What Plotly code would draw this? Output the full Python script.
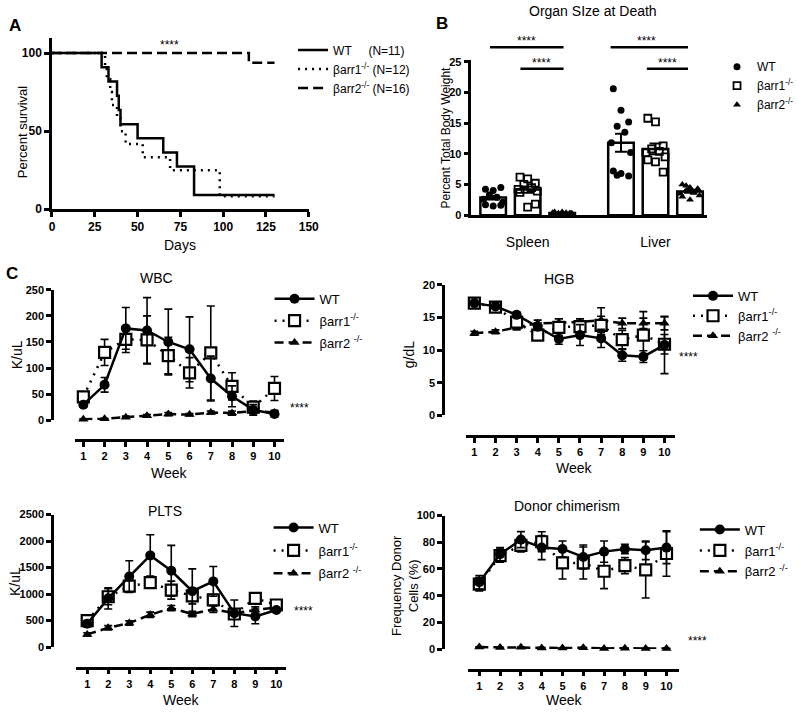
import numpy as np
import plotly.graph_objects as go

W, H = 799, 715
FONT = "Liberation Sans, Arial, sans-serif"


def px(x):
    return x / W


def py(y):
    return 1 - y / H


# ---------------- DATA ----------------
# Panel A: Kaplan-Meier survival (days, percent survival)
wt_days = [0, 29, 33, 38, 39, 40, 50, 65, 73, 83, 130]
wt_surv = [100, 90.9, 81.8, 72.7, 63.6, 54.5, 45.5, 36.4, 27.3, 9.1, 9.1]
b1_days = [0, 31, 32, 34, 35, 38, 40, 43, 53, 69, 98, 130]
b1_surv = [100, 91.7, 83.3, 75.0, 66.7, 58.3, 50.0, 41.7, 33.3, 25.0, 8.3, 8.3]
b2_days = [0, 115, 130]
b2_surv = [100, 93.75, 93.75]

# Panel B: organ size at death (% total body weight)
organs = ["Spleen", "Liver"]
wt_spleen = [4.2, 4.0, 4.5, 3.3, 2.9, 2.6, 2.1, 1.7, 1.5, 1.6, 3.0]
b1_spleen = [6.2, 5.9, 5.2, 5.0, 4.5, 4.2, 3.9, 3.7, 1.3, 1.8]
b2_spleen = [0.5, 0.4, 0.3, 0.3, 0.2, 0.4, 0.3, 0.2, 0.5, 0.3, 0.2, 0.4]
wt_liver = [20.6, 17.1, 15.2, 14.5, 13.5, 11.8, 10.2, 7.2, 6.8, 6.4, 6.5]
b1_liver = [15.8, 15.2, 11.3, 10.8, 10.4, 10.2, 9.5, 9.0, 8.7, 7.0]
b2_liver = [5.0, 4.5, 4.3, 4.0, 3.8, 3.5, 3.2, 3.0, 2.5, 4.2, 4.8, 3.6]

# Panel C: weekly blood counts (mean, error)
weeks = [1, 2, 3, 4, 5, 6, 7, 8, 9, 10]
wbc_wt = [30, 68, 176, 172, 150, 136, 80, 46, 20, 12]
wbc_wt_err = [5, 14, 40, 63, 63, 62, 43, 20, 10, 5]
wbc_b1 = [45, 130, 155, 154, 124, 91, 129, 65, 25, 61]
wbc_b1_err = [8, 25, 25, 46, 35, 29, 90, 26, 12, 23]
wbc_b2 = [2, 3, 6, 9, 12, 11, 15, 14, 18, 15]
wbc_b2_err = [1, 1, 2, 2, 3, 2, 3, 4, 5, 4]

hgb_wt = [17.2, 16.7, 15.4, 13.6, 11.7, 12.3, 11.8, 9.2, 9.0, 10.8]
hgb_wt_err = [0.3, 0.3, 0.4, 0.6, 0.8, 1.6, 1.4, 0.9, 0.9, 4.4]
hgb_b1 = [17.2, 16.6, 14.3, 12.3, 13.5, 13.6, 13.8, 11.6, 12.3, 10.9]
hgb_b1_err = [0.3, 0.4, 0.6, 0.7, 1.3, 1.2, 1.4, 1.4, 3.6, 1.5]
hgb_b2 = [12.6, 12.8, 13.5, 14.1, 14.2, 14.3, 14.6, 14.1, 14.1, 14.1]
hgb_b2_err = [0.3, 0.3, 0.4, 0.5, 0.6, 0.5, 1.9, 0.8, 0.8, 1.0]

plt_wt = [440, 920, 1330, 1730, 1440, 1056, 1240, 640, 580, 700]
plt_wt_err = [60, 200, 300, 390, 480, 420, 280, 250, 140, 40]
plt_b1 = [500, 950, 1150, 1215, 1075, 965, 890, 625, 920, 795]
plt_b1_err = [60, 150, 100, 70, 170, 150, 100, 100, 80, 50]
plt_b2 = [240, 365, 455, 610, 735, 625, 715, 640, 700, 750]
plt_b2_err = [30, 40, 40, 50, 50, 50, 60, 60, 60, 60]

chim_wt = [50, 71, 82, 76, 75, 69, 73, 75, 74, 76]
chim_wt_err = [5, 5, 6, 9, 6, 9, 8, 3.5, 7, 12]
chim_b1 = [48.6, 70, 77.7, 80.4, 64.5, 64.5, 58.3, 62.5, 59.3, 71.6]
chim_b1_err = [5, 5, 5, 7.5, 12, 12, 13, 6, 21, 17]
chim_b2 = [1.5, 1.2, 1.3, 0.9, 0.8, 1.0, 0.5, 0.6, 0.5, 0.4]
chim_b2_err = [0.2, 0.2, 0.2, 0.2, 0.2, 0.2, 0.2, 0.2, 0.2, 0.2]

# ---------------- FIGURE ----------------
fig = go.Figure()
SUP = "<sup>-/-</sup>"
NB = "\u00a0"

# ---- Panel A ----
a_series = [
    ("WT" + NB * 4 + " (N=11)", wt_days, wt_surv, "solid"),
    ("βarr1" + SUP + " (N=12)", b1_days, b1_surv, "2px,5px"),
    ("βarr2" + SUP + " (N=16)", b2_days, b2_surv, "10px,5px"),
]
for i, (nm, d, s, dash) in enumerate(a_series):
    fig.add_trace(go.Scatter(
        x=d, y=s, mode="lines", line=dict(shape="hv", color="black", width=2.5, dash=dash),
        name=nm, xaxis="x", yaxis="y", legend="legend", legendrank=i + 1,
        legendgroup="a%d" % i, cliponaxis=False))

# ---- Panel B ----
b_sets = [
    ("WT", [wt_spleen, wt_liver], dict(symbol="circle", size=7, color="black")),
    ("βarr1" + SUP, [b1_spleen, b1_liver],
     dict(symbol="square-open", size=7, color="black", line=dict(width=1.8))),
    ("βarr2" + SUP, [b2_spleen, b2_liver], dict(symbol="triangle-up", size=7, color="black")),
]
slot = 0.27
barw = 0.2
for j, (nm, groups, mk) in enumerate(b_sets):
    off = (j - 1) * slot
    means = [float(np.mean(g)) for g in groups]
    sems = [float(np.std(g, ddof=1) / np.sqrt(len(g))) for g in groups]
    fig.add_trace(go.Bar(
        x=[k + off for k in range(len(organs))], y=means, width=barw,
        marker=dict(color="white", line=dict(color="black", width=2.5)),
        error_y=dict(type="data", array=sems, color="black", thickness=2, width=6),
        showlegend=False, xaxis="x2", yaxis="y2"))
    xs, ys = [], []
    pattern = [-0.06, 0.0, 0.06, -0.03, 0.03, -0.075, 0.075]
    for k, g in enumerate(groups):
        for n, v in enumerate(g):
            xs.append(k + off + pattern[n % len(pattern)])
            ys.append(v)
    fig.add_trace(go.Scatter(
        x=xs, y=ys, mode="markers", marker=mk, name=nm, xaxis="x2", yaxis="y2",
        legend="legend2", legendrank=j + 1, legendgroup="b%d" % j, cliponaxis=False))

# ---- Panel C ----
c_panels = [
    (3, "legend3", [(wbc_wt, wbc_wt_err), (wbc_b1, wbc_b1_err), (wbc_b2, wbc_b2_err)]),
    (4, "legend4", [(hgb_wt, hgb_wt_err), (hgb_b1, hgb_b1_err), (hgb_b2, hgb_b2_err)]),
    (5, "legend5", [(plt_wt, plt_wt_err), (plt_b1, plt_b1_err), (plt_b2, plt_b2_err)]),
    (6, "legend6", [(chim_wt, chim_wt_err), (chim_b1, chim_b1_err), (chim_b2, chim_b2_err)]),
]
c_styles = [
    ("WT", "solid", dict(symbol="circle", size=10, color="black")),
    ("βarr1" + SUP, "2px,6px",
     dict(symbol="square", size=11, color="white", line=dict(color="black", width=2.2))),
    ("βarr2 " + SUP, "9px,5px", dict(symbol="triangle-up", size=9, color="black")),
]
for idx, leg, series in c_panels:
    order = [2, 1, 0]
    for j in order:
        vals, err = series[j]
        nm, dash, mk = c_styles[j]
        fig.add_trace(go.Scatter(
            x=weeks, y=vals, mode="lines+markers",
            line=dict(color="black", width=2.5, dash=dash), marker=mk,
            error_y=dict(type="data", array=err, color="black", thickness=1.6, width=4),
            name=nm, xaxis="x%d" % idx, yaxis="y%d" % idx, legend=leg,
            legendrank=j + 1, legendgroup="c%d%d" % (idx, j), cliponaxis=False))

# ---------------- AXES ----------------
tickfont = dict(family=FONT, size=11, color="black", weight="bold")
base = dict(showline=True, linecolor="black", linewidth=2.5, ticks="outside",
            ticklen=5, tickwidth=2.5, tickcolor="black", showgrid=False,
            zeroline=False, tickfont=tickfont, fixedrange=True)

layout = dict(
    width=W, height=H, margin=dict(l=0, r=0, t=0, b=0),
    paper_bgcolor="white", plot_bgcolor="white", font=dict(family=FONT, color="black"),
    barmode="overlay",
)
# A
layout["xaxis"] = dict(base, domain=[px(50), px(312)], range=[0, 150], tickvals=[0, 25, 50, 75, 100, 125, 150],
                       anchor="y", tickfont=dict(tickfont, size=12))
layout["yaxis"] = dict(base, domain=[py(207), py(33)], range=[0, 109.4], tickvals=[0, 50, 100],
                       anchor="x", tickfont=dict(tickfont, size=12))
# B
layout["xaxis2"] = dict(base, domain=[px(478), px(718)], range=[-0.44, 1.40], tickvals=[0, 1],
                        ticktext=organs, ticks="", ticklabelstandoff=12, anchor="y2",
                        tickfont=dict(family=FONT, size=14, color="black"))
layout["yaxis2"] = dict(base, domain=[py(213), py(55)], range=[0, 25.3], tickvals=[0, 5, 10, 15, 20, 25],
                        anchor="x2")
# C panels
c_geo = {
    3: dict(xd=(73, 287), xr=[0.585, 10.46], xpos=442, yd=(422, 289), yr=[0, 250], ypos=50, dt=50),
    4: dict(xd=(472, 686), xr=[0.583, 10.51], xpos=438, yd=(417, 284), yr=[0, 20], ypos=449, dt=5),
    5: dict(xd=(75, 289), xr=[0.49, 10.47], xpos=674, yd=(653, 518), yr=[0, 2500], ypos=50, dt=500),
    6: dict(xd=(475, 690), xr=[0.48, 10.61], xpos=676, yd=(655, 519), yr=[0, 100], ypos=449, dt=20),
}
for k, g in c_geo.items():
    layout["xaxis%d" % k] = dict(base, domain=[px(g["xd"][0]), px(g["xd"][1])], range=g["xr"],
                                 tickvals=weeks, anchor="free", position=py(g["xpos"]))
    layout["yaxis%d" % k] = dict(base, domain=[py(g["yd"][0]), py(g["yd"][1])], range=g["yr"],
                                 dtick=g["dt"], tick0=0, anchor="free", position=px(g["ypos"]))

# ---------------- LEGENDS ----------------
def legend_cfg(x, y, size=13, gap=0, iw=30):
    return dict(x=px(x), y=py(y), xanchor="left", yanchor="top", bgcolor="rgba(0,0,0,0)",
                font=dict(family=FONT, size=size, color="black"), tracegroupgap=gap,
                itemwidth=iw, itemclick=False, itemdoubleclick=False)

layout["legend"] = legend_cfg(296, 30, size=12, gap=0)
layout["legend2"] = legend_cfg(729, 47, size=12, gap=0)
layout["legend3"] = legend_cfg(272, 283, size=13, gap=2, iw=40)
layout["legend4"] = legend_cfg(699, 280, size=13, gap=0, iw=40)
layout["legend5"] = legend_cfg(271, 516, size=13, gap=3, iw=40)
layout["legend6"] = legend_cfg(706, 518, size=13, gap=1, iw=40)

# ---------------- ANNOTATIONS ----------------
ann = []


def text(x, y, s, size=14, bold=False, angle=0, xanchor="center", yanchor="middle"):
    ann.append(dict(x=px(x), y=py(y), xref="paper", yref="paper", text=s, showarrow=False,
                    xanchor=xanchor, yanchor=yanchor, textangle=angle,
                    font=dict(family=FONT, size=size, color="black", weight="bold" if bold else "normal")))


text(12, 20, "A", 17, True)
text(448, 18, "B", 17, True)
text(9, 272, "C", 17, True)
text(602, 5, "Organ SIze at Death", 14)
text(157, 277, "WBC", 14)
text(567, 278, "HGB", 14)
text(165, 514, "PLTS", 14)
text(576, 509, "Donor chimerism", 14)
text(20, 128, "Percent survival", 13, angle=-90)
text(181, 243, "Days", 14)
text(452, 134, "Percent Total Body Weight", 12, angle=-90)
text(14, 355, "K/uL", 14, angle=-90)
text(414, 355, "g/dL", 14, angle=-90)
text(13, 586, "K/uL", 14, angle=-90)
text(411, 590, "Frequency Donor<br>Cells (%)", 13, angle=-90)
text(170, 476, "Week", 14)
text(583, 471, "Week", 14)
text(182, 717, "Week", 14, yanchor="bottom")
text(573, 717, "Week", 14, yanchor="bottom")
for (x, y) in [(170, 40), (534, 36), (550, 58), (657, 36), (678, 58), (303, 409), (700, 358),
               (307, 616), (709, 647)]:
    text(x, y, "****", 12)

shapes = []
for (x0, x1, y) in [(497, 572, 42), (528, 572, 64), (620, 699, 42), (657, 699, 64)]:
    shapes.append(dict(type="line", xref="paper", yref="paper", x0=px(x0), x1=px(x1),
                       y0=py(y), y1=py(y), line=dict(color="black", width=2.5)))

layout["annotations"] = ann
layout["shapes"] = shapes
fig.update_layout(**layout)
fig.write_html("out.html", config={"displayModeBar": False},
               post_script="document.body.style.margin='0';document.body.style.overflow='hidden';")
